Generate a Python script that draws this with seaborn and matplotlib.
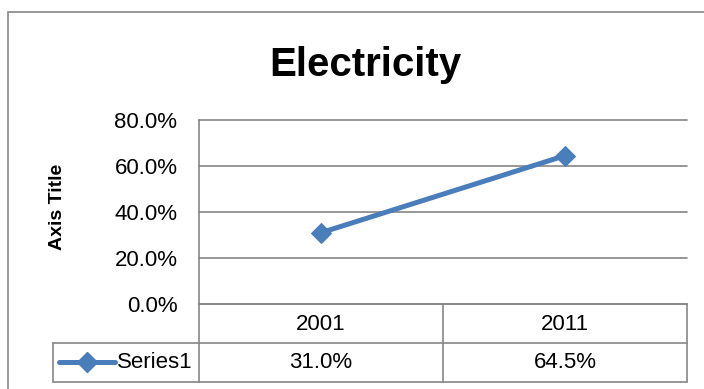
import matplotlib
matplotlib.use("Agg")
import matplotlib.pyplot as plt
import matplotlib.transforms as mtransforms
from matplotlib.lines import Line2D
from matplotlib.patches import Rectangle
from matplotlib.ticker import PercentFormatter
from matplotlib import font_manager
import seaborn as sns
import pandas as pd

# ---- data ----
years = ["2001", "2011"]
shares = [0.310, 0.645]
series_name = "Series1"
title = "Electricity"
y_label = "Axis Title"
y_ticks = [0.0, 0.2, 0.4, 0.6, 0.8]

df = pd.DataFrame({"year": years, "share": shares})

sns.set_style("white")
installed = {f.name for f in font_manager.fontManager.ttflist}
base_font = "Liberation Sans" if "Liberation Sans" in installed else "DejaVu Sans"
plt.rcParams["font.family"] = [base_font, "DejaVu Sans"]
plt.rcParams["text.color"] = "black"
plt.rcParams["axes.labelcolor"] = "black"
plt.rcParams["ytick.color"] = "black"

W, H = 704, 389
fig = plt.figure(figsize=(W / 100, H / 100), dpi=100)


def fx(px):
    return px / W


def fy(py):
    return 1 - py / H


GRAY = "#868686"
BLUE = "#4A7EBB"

# plot area
ax = fig.add_axes([fx(199), fy(304), fx(687) - fx(199), fy(120) - fy(304)])
sns.lineplot(data=df, x="year", y="share", ax=ax, color=BLUE, linewidth=3.6,
             marker="D", markersize=10, markeredgecolor=BLUE, sort=False)

ax.set_xlim(-0.5, 1.5)
ax.set_ylim(0, 0.8)
ax.set_yticks(y_ticks)
ax.yaxis.set_major_formatter(PercentFormatter(1.0, decimals=1))
ax.set_xticks([])
ax.set_xlabel("")
ax.tick_params(axis="y", length=0, pad=15.5, labelsize=16, colors="black")
ax.yaxis.grid(True, color=GRAY, linewidth=1.2)
for gl in ax.get_ygridlines():
    gl.set_clip_on(False)
for side in ("top", "right", "bottom"):
    ax.spines[side].set_visible(False)
ax.spines["left"].set_color(GRAY)
ax.spines["left"].set_linewidth(1.2)

# y axis title
ax.set_ylabel(y_label, fontsize=14, fontweight="bold", color="black")
ax.yaxis.set_label_coords((66 - 199) / 488, (304 - 206.5) / 184)

# chart title
fig.text(fx(365), fy(76), title, ha="center", va="baseline", fontsize=29,
         fontweight="bold", color="black")

# ---- data table below the plot ----
blend = mtransforms.blended_transform_factory(ax.transAxes, fig.transFigure)
blend_data = mtransforms.blended_transform_factory(ax.transData, fig.transFigure)
tbl_kw = dict(color=GRAY, linewidth=1.2, clip_on=False)

# horizontal rules
for py, x0 in ((304, 0.0), (343, (53 - 199) / 488), (382, (53 - 199) / 488)):
    fig.add_artist(Line2D([x0, 1.0], [fy(py), fy(py)], transform=blend, **tbl_kw))
# vertical rules
for xa in (0.0, 0.5, 1.0):
    fig.add_artist(Line2D([xa, xa], [fy(304), fy(382)], transform=blend, **tbl_kw))
fig.add_artist(Line2D([(53 - 199) / 488] * 2, [fy(343), fy(382)], transform=blend, **tbl_kw))

# header and value cells
for i, (yr, v) in enumerate(zip(years, shares)):
    fig.text(i, fy(324.5), yr, transform=blend_data, ha="center", va="center",
             fontsize=16, color="black")
    fig.text(i, fy(363), f"{v * 100:.1f}%", transform=blend_data, ha="center",
             va="center", fontsize=16, color="black")

# legend key cell
fig.add_artist(Line2D([fx(59), fx(115)], [fy(361.7), fy(361.7)], color=BLUE,
                      linewidth=3.6, transform=fig.transFigure))
fig.add_artist(Line2D([fx(87)], [fy(361.7)], color=BLUE, marker="D", markersize=10,
                      markeredgecolor=BLUE, linestyle="none", transform=fig.transFigure))
fig.text(fx(117), fy(363), series_name, ha="left", va="center", fontsize=16,
         color="black")

# chart border
fig.add_artist(Rectangle((fx(8), fy(400)), fx(720) - fx(8), fy(12) - fy(400),
                         transform=fig.transFigure, fill=False, edgecolor=GRAY,
                         linewidth=1.2))

fig.savefig("out.png", dpi=100)
